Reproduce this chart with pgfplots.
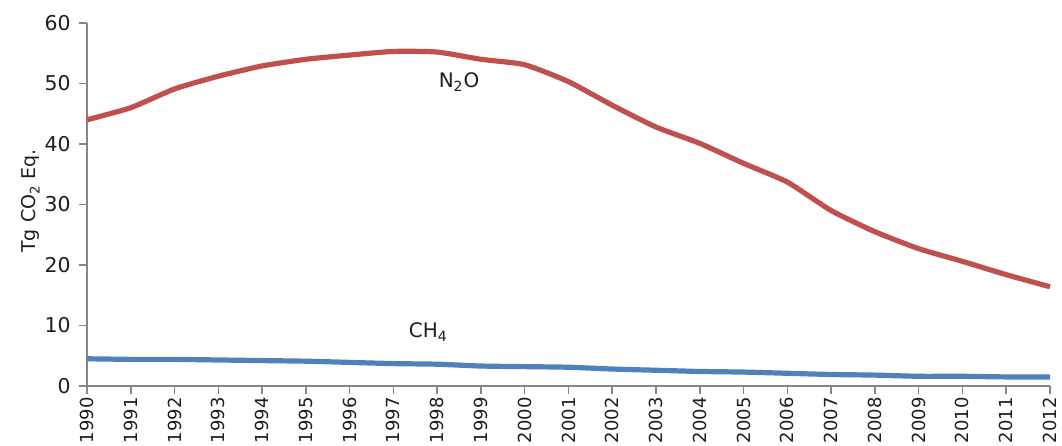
\documentclass[border=0pt]{standalone}
\usepackage{pgfplots}
\pgfplotsset{compat=1.18}
\usepackage{fontspec}
\setmainfont{DejaVu Sans}
\definecolor{redl}{RGB}{192,80,77}
\definecolor{bluel}{RGB}{79,129,189}
\definecolor{axgray}{RGB}{134,134,134}
\definecolor{txt}{RGB}{30,30,30}
\begin{document}
\begin{tikzpicture}
\begin{axis}[
  scale only axis,
  width=481.5pt, height=181.5pt,
  xmin=1990, xmax=2012, ymin=0, ymax=60,
  axis lines=left,
  axis line style={axgray, line width=1pt, -},
  xtick={1990,...,2012},
  ytick={0,10,...,60},
  x tick label style={rotate=90, anchor=east, font=\fontsize{9}{11}\selectfont, text=txt, inner sep=0.5pt, xshift=-1pt},
  y tick label style={font=\fontsize{10.2}{12}\selectfont, text=txt, inner sep=1pt, xshift=-3pt},
  xticklabel={\pgfmathprintnumber[1000 sep={}]{\tick}},
  /pgf/number format/assume math mode=true,
  tick style={axgray, line width=0.8pt},
  major tick length=4pt,
  tick align=outside,
  ylabel={Tg CO\textsubscript{2} Eq.},
  ylabel style={font=\fontsize{9.5}{12}\selectfont, text=txt, at={(axis description cs:0,0.51)}, yshift=20pt},
  clip=false,
]
\addplot[redl, line width=2.6pt, smooth, tension=0.35] coordinates {
(1990,44.0) (1991,46.0) (1992,49.1) (1993,51.2) (1994,52.9) (1995,54.0) (1996,54.7)
(1997,55.3) (1998,55.2) (1999,54.0) (2000,53.1) (2001,50.3) (2002,46.4) (2003,42.8)
(2004,40.1) (2005,36.8) (2006,33.7) (2007,29.0) (2008,25.5) (2009,22.7) (2010,20.6)
(2011,18.4) (2012,16.4)};
\addplot[bluel, line width=2.6pt, smooth, tension=0.35] coordinates {
(1990,4.5) (1991,4.4) (1992,4.4) (1993,4.3) (1994,4.2) (1995,4.1) (1996,3.9)
(1997,3.7) (1998,3.6) (1999,3.3) (2000,3.2) (2001,3.1) (2002,2.8) (2003,2.6)
(2004,2.4) (2005,2.3) (2006,2.1) (2007,1.9) (2008,1.8) (2009,1.6) (2010,1.6)
(2011,1.5) (2012,1.5)};
\node[font=\fontsize{10}{12}\selectfont, text=txt] at (axis cs:1998.5,50.2) {N\textsubscript{2}O};
\node[font=\fontsize{10}{12}\selectfont, text=txt] at (axis cs:1997.8,8.9) {CH\textsubscript{4}};
\coordinate (bl) at (rel axis cs:0,0);
\coordinate (tr) at (rel axis cs:1,1);
\end{axis}
\pgfresetboundingbox
\path[use as bounding box] ([xshift=-43.5pt,yshift=-30pt]bl) rectangle ([xshift=6pt,yshift=11.5pt]tr);
\end{tikzpicture}
\end{document}
